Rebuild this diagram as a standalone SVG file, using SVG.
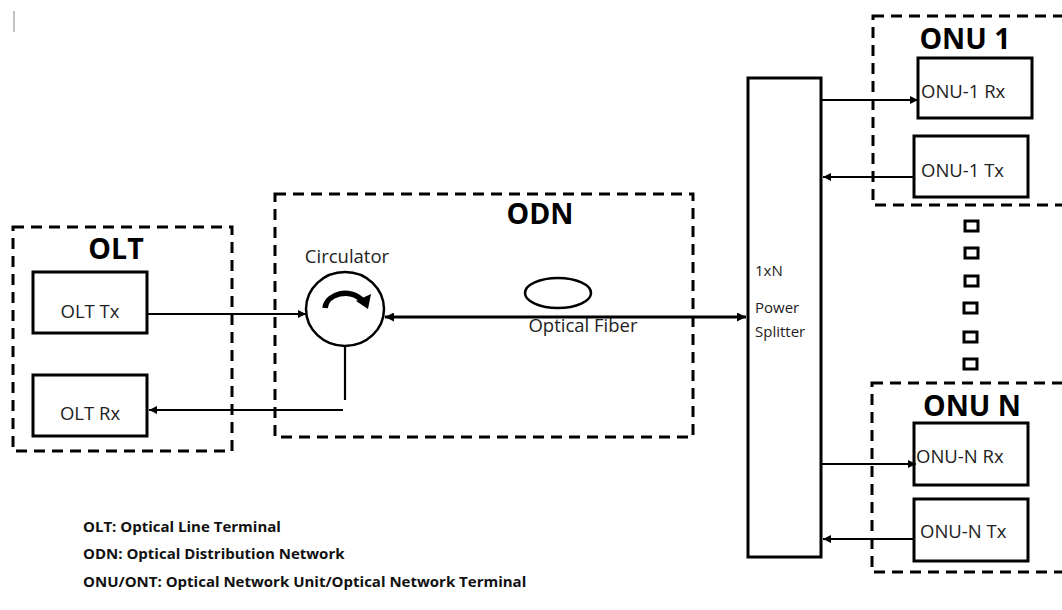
<svg xmlns="http://www.w3.org/2000/svg" width="1062" height="610" viewBox="0 0 1062 610">
<style>
.dash{fill:none;stroke:#000;stroke-width:3;stroke-dasharray:11 7}
.box{fill:#fff;stroke:#000;stroke-width:3}
.ln{fill:none;stroke:#000;stroke-width:2.2}
.thick{fill:none;stroke:#000;stroke-width:3}
.title{font-family:"Open Sans",sans-serif;font-weight:bold;font-size:28.5px;fill:#000;text-anchor:middle}
.lbl{font-family:"Open Sans",sans-serif;font-size:18.5px;fill:#222}
.sm{font-family:"Open Sans",sans-serif;font-size:15px;fill:#222}
.leg{font-family:"Open Sans",sans-serif;font-weight:bold;font-size:15px;fill:#111}
.sq{fill:#fff;stroke:#000;stroke-width:3}
</style>
<defs>
<marker id="ah" viewBox="0 0 10 10" refX="10" refY="5" markerWidth="10" markerHeight="8" markerUnits="userSpaceOnUse" orient="auto-start-reverse">
<path d="M0,0 L10,5 L0,10 z" fill="#000"/>
</marker>
<marker id="ahb" viewBox="0 0 10 10" refX="10" refY="5" markerWidth="11" markerHeight="9" markerUnits="userSpaceOnUse" orient="auto-start-reverse">
<path d="M0,0 L10,5 L0,10 z" fill="#000"/>
</marker>
</defs>
<line x1="14" y1="11" x2="14" y2="32" stroke="#999" stroke-width="1.2"/>

<g id="olt">
<rect class="dash" x="13" y="227" width="219" height="224"/>
<text class="title" x="116" y="259">OLT</text>
</g>
<g id="olt-tx">
<rect class="box" x="33" y="272" width="114" height="61"/>
<text class="lbl" x="90" y="318" text-anchor="middle">OLT Tx</text>
</g>
<g id="olt-rx">
<rect class="box" x="33" y="375" width="114" height="61"/>
<text class="lbl" x="90" y="420" text-anchor="middle">OLT Rx</text>
</g>

<g id="odn">
<rect class="dash" x="275" y="194" width="418" height="243"/>
<text class="title" x="540" y="224">ODN</text>
</g>
<g id="circulator">
<text class="lbl" x="347" y="263" text-anchor="middle">Circulator</text>
<ellipse cx="345" cy="309" rx="39" ry="37" fill="#fff" stroke="#000" stroke-width="2.5"/>
<path d="M325,308 C327,293 350,288 362,300" fill="none" stroke="#000" stroke-width="5.5"/>
<polygon points="356,301 371,294 368,309" fill="#000"/>
</g>
<g id="fiber">
<ellipse cx="558" cy="293" rx="33" ry="15" fill="none" stroke="#000" stroke-width="2.5"/>
<text class="lbl" x="583" y="332" text-anchor="middle">Optical Fiber</text>
</g>

<g id="splitter">
<rect class="box" x="748" y="78" width="73" height="479"/>
<text class="sm" x="755" y="276">1xN</text>
<text class="sm" x="755" y="313">Power</text>
<text class="sm" x="755" y="337">Splitter</text>
</g>

<g id="onu1">
<rect class="dash" x="873" y="16" width="200" height="189"/>
<text class="title" x="965" y="49">ONU 1</text>
</g>
<g id="onu1-rx">
<rect class="box" x="918" y="58" width="114" height="60"/>
<text class="lbl" x="921" y="98">ONU-1 Rx</text>
</g>
<g id="onu1-tx">
<rect class="box" x="914" y="136" width="114" height="61"/>
<text class="lbl" x="921" y="177">ONU-1 Tx</text>
</g>

<g id="dots">
<rect class="sq" x="965" y="221" width="13" height="10"/>
<rect class="sq" x="965" y="248" width="13" height="10"/>
<rect class="sq" x="965" y="276" width="13" height="10"/>
<rect class="sq" x="964" y="303" width="13" height="10"/>
<rect class="sq" x="964" y="332" width="13" height="10"/>
<rect class="sq" x="964" y="359" width="13" height="10"/>
</g>

<g id="onun">
<rect class="dash" x="872" y="383" width="200" height="189"/>
<text class="title" x="972" y="416">ONU N</text>
</g>
<g id="onun-rx">
<rect class="box" x="914" y="423" width="114" height="62"/>
<text class="lbl" x="916" y="463">ONU-N Rx</text>
</g>
<g id="onun-tx">
<rect class="box" x="914" y="499" width="114" height="62"/>
<text class="lbl" x="920" y="538">ONU-N Tx</text>
</g>

<g id="connectors">
<line class="ln" x1="147" y1="314" x2="306" y2="314" marker-end="url(#ah)"/>
<line class="ln" x1="345" y1="346" x2="345" y2="400"/>
<line class="ln" x1="343" y1="410" x2="149" y2="410" marker-end="url(#ah)"/>
<line class="thick" x1="385" y1="317" x2="746" y2="317" marker-start="url(#ahb)" marker-end="url(#ahb)"/>
<line class="ln" x1="822" y1="100" x2="918" y2="100" marker-end="url(#ah)"/>
<line class="ln" x1="914" y1="177" x2="823" y2="177" marker-end="url(#ah)"/>
<line class="ln" x1="822" y1="464" x2="916" y2="464" marker-end="url(#ah)"/>
<line class="ln" x1="914" y1="539" x2="823" y2="539" marker-end="url(#ah)"/>
</g>

<g id="legend">
<text class="leg" x="83" y="532">OLT: Optical Line Terminal</text>
<text class="leg" x="83" y="559">ODN: Optical Distribution Network</text>
<text class="leg" x="83" y="587">ONU/ONT: Optical Network Unit/Optical Network Terminal</text>
</g>
</svg>
